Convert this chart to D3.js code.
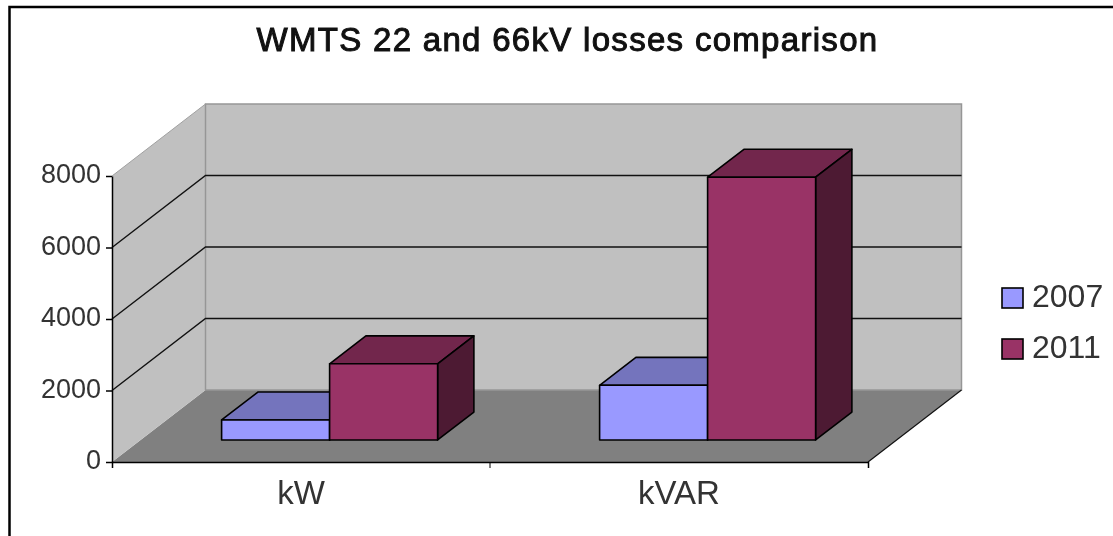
<!DOCTYPE html>
<html>
<head>
<meta charset="utf-8">
<script src="https://cdn.jsdelivr.net/npm/d3@7"></script>
<style>
  html, body { margin: 0; padding: 0; background: #fff; }
  svg { display: block; filter: blur(0.4px); }
  text { font-family: "Liberation Sans", Arial, sans-serif; fill: #333; }
</style>
</head>
<body>
<svg id="chart" width="1113" height="536"></svg>
<script>
var categories = ["kW", "kVAR"];
var seriesNames = ["2007", "2011"];
var values2007 = [560, 1530];
var values2011 = [2130, 7350];
var yTicks = [0, 2000, 4000, 6000, 8000];
var gridValues = [2000, 4000, 6000];
var chartTitle = "WMTS 22 and 66kV losses comparison";

var seriesValues = { "2007": values2007, "2011": values2011 };
var fronts = { "2007": "#9999ff", "2011": "#993366" };
var tops = { "2007": "#7474bd", "2011": "#72264c" };
var sides = { "2007": "#4f4f85", "2011": "#4d1a33" };

var svg = d3.select("#chart");

var x = d3.scaleBand().domain(categories).range([112, 868]);
var xSeries = d3.scaleBand().domain(seriesNames).range([0, x.bandwidth()]).paddingOuter(0.75).paddingInner(0);
var y = d3.scaleLinear().domain([0, 8000]).range([462, 176]);

// depth goes 0 (front of floor) to 1 (back wall)
var depthX = d3.scaleLinear().domain([0, 1]).range([0, 93.5]);
var depthY = d3.scaleLinear().domain([0, 1]).range([0, -72]);
var barDepth = [0.306, 0.694];

function pt(px, v, d) {
  return [px + depthX(d), y(v) + depthY(d)];
}
function poly(points) {
  return "M" + points.map(function(p) { return p.join(","); }).join("L") + "Z";
}

// frame, no right or bottom edge in the original
svg.append("path")
  .attr("d", "M9.5,536V7H1113")
  .attr("fill", "none")
  .attr("stroke", "#000")
  .attr("stroke-width", 2.5);

svg.append("text")
  .attr("x", 567.5)
  .attr("y", 51)
  .attr("text-anchor", "middle")
  .style("font-size", "33px")
  .style("letter-spacing", "1.3px")
  .style("fill", "#111")
  .style("stroke", "#111")
  .style("stroke-width", "1px")
  .text(chartTitle);

var x0 = x.range()[0], x1 = x.range()[1];

var walls = svg.append("g");
walls.append("path")
  .attr("d", poly([pt(x0, 0, 0), pt(x0, 0, 1), pt(x1, 0, 1), pt(x1, 0, 0)]))
  .attr("fill", "#808080");
walls.append("path")
  .attr("d", poly([pt(x0, 0, 0), pt(x0, 8000, 0), pt(x0, 8000, 1), pt(x0, 0, 1)]))
  .attr("fill", "#c0c0c0");
walls.append("path")
  .attr("d", poly([pt(x0, 0, 1), pt(x0, 8000, 1), pt(x1, 8000, 1), pt(x1, 0, 1)]))
  .attr("fill", "#c0c0c0")
  .attr("stroke", "#969696")
  .attr("stroke-width", 1.5);
walls.append("path")
  .attr("d", "M" + pt(x0, 8000, 0) + "L" + pt(x0, 8000, 1))
  .attr("stroke", "#a0a0a0")
  .attr("fill", "none");

// gridlines run up the side wall then along the back wall
svg.append("g").selectAll("path")
  .data(gridValues)
  .enter().append("path")
  .attr("d", function(d) {
    return "M" + pt(x0, d, 0) + "L" + pt(x0, d, 1) + "L" + pt(x1, d, 1);
  })
  .attr("fill", "none")
  .attr("stroke", "#111")
  .attr("stroke-width", 1.4);

// right edge of the floor
svg.append("path")
  .attr("d", "M" + pt(x1, 0, 0) + "L" + pt(x1, 0, 1))
  .attr("fill", "none")
  .attr("stroke", "#111")
  .attr("stroke-width", 1.2);

var bars = [];
categories.forEach(function(c, i) {
  seriesNames.forEach(function(s) {
    bars.push({ category: c, series: s, value: seriesValues[s][i] });
  });
});

var bar = svg.append("g").selectAll("g")
  .data(bars)
  .enter().append("g")
  .attr("stroke", "#000")
  .attr("stroke-width", 1.6)
  .attr("stroke-linejoin", "round");

function corners(d) {
  var l = x(d.category) + xSeries(d.series);
  var r = l + xSeries.bandwidth();
  return { l: l, r: r, v: d.value };
}

bar.append("path")
  .attr("d", function(d) {
    var c = corners(d);
    return poly([pt(c.l, c.v, barDepth[0]), pt(c.l, c.v, barDepth[1]), pt(c.r, c.v, barDepth[1]), pt(c.r, c.v, barDepth[0])]);
  })
  .attr("fill", function(d) { return tops[d.series]; });

bar.append("path")
  .attr("d", function(d) {
    var c = corners(d);
    return poly([pt(c.r, 0, barDepth[0]), pt(c.r, c.v, barDepth[0]), pt(c.r, c.v, barDepth[1]), pt(c.r, 0, barDepth[1])]);
  })
  .attr("fill", function(d) { return sides[d.series]; });

bar.append("path")
  .attr("d", function(d) {
    var c = corners(d);
    return poly([pt(c.l, 0, barDepth[0]), pt(c.l, c.v, barDepth[0]), pt(c.r, c.v, barDepth[0]), pt(c.r, 0, barDepth[0])]);
  })
  .attr("fill", function(d) { return fronts[d.series]; });

// axes
var yAxis = svg.append("g")
  .attr("transform", "translate(" + x0 + ",0)")
  .call(d3.axisLeft(y).tickValues(yTicks).tickFormat(d3.format("d")).tickSize(6).tickSizeOuter(0).tickPadding(5));
yAxis.selectAll("text").style("font-size", "27px").attr("font-family", null).attr("dy", "0.25em");

var xAxis = svg.append("g")
  .attr("transform", "translate(0," + y(0) + ")")
  .call(d3.axisBottom(x).tickSize(0).tickSizeOuter(6).tickPadding(17));
xAxis.selectAll("text").style("font-size", "33px").attr("font-family", null).attr("dy", "0.75em");

// tick between the two categories
xAxis.append("line")
  .attr("x1", x(categories[1]))
  .attr("x2", x(categories[1]))
  .attr("y1", 0)
  .attr("y2", 6)
  .attr("stroke", "#000");

svg.selectAll(".domain, .tick line").attr("stroke", "#000").attr("stroke-width", 1.5);
xAxis.selectAll(".tick line").attr("stroke", "none");

// legend
var legendY = d3.scaleBand().domain(seriesNames).range([272, 374]);
var legend = svg.append("g").selectAll("g")
  .data(seriesNames)
  .enter().append("g")
  .attr("transform", function(d) { return "translate(1002," + (legendY(d) + legendY.bandwidth() / 2) + ")"; });

legend.append("rect")
  .attr("x", 0)
  .attr("y", -9.5)
  .attr("width", 21)
  .attr("height", 20)
  .attr("fill", function(d) { return fronts[d]; })
  .attr("stroke", "#000")
  .attr("stroke-width", 1.6);

legend.append("text")
  .attr("x", 30)
  .attr("y", 9)
  .style("font-size", "32px")
  .text(function(d) { return d; });
</script>
</body>
</html>
